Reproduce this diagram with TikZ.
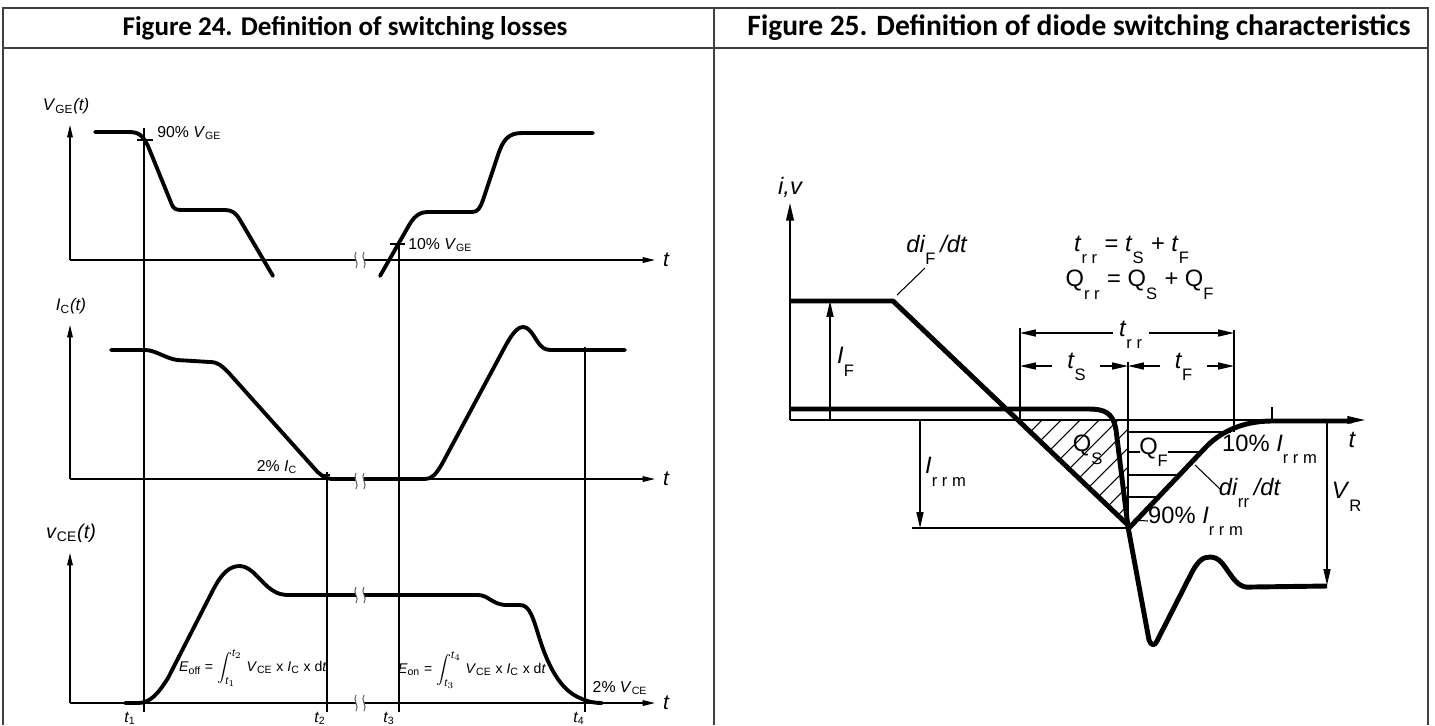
\documentclass[tikz,border=0pt]{standalone}
\usepackage{fontspec}
\usepackage{amsmath}
\setsansfont{Liberation Sans}
\newfontfamily\headfont{Carlito}
\usetikzlibrary{arrows.meta}

% lowered subscript, as in the diode sketch
\newcommand{\lsub}[1]{\raisebox{-0.7ex}{\textsubscript{\upshape #1}}}
\newcommand{\usub}[1]{\textsubscript{\upshape #1}}

\tikzset{
    frame/.style={draw=black!75, line width=1.1pt},
    heading/.style={font=\headfont\bfseries\fontsize{15.4}{17}\selectfont, inner sep=0pt},
    guide/.style={line width=0.6pt},
    axisL/.style={line width=0.7pt, -{Triangle[length=7pt,width=3.2pt]}},
    axisR/.style={line width=0.8pt, -{Triangle[length=10pt,width=4.4pt]}},
    dim/.style={line width=0.7pt, -{Triangle[length=9pt,width=4pt]}},
    wave/.style={line width=2.2pt, line join=round, line cap=round},
    bold/.style={line width=2.8pt, line join=round},
    small/.style={font=\sffamily\fontsize{9}{10}\selectfont, inner sep=0pt},
    axlbl/.style={font=\sffamily\fontsize{9.6}{11}\selectfont, inner sep=0pt},
    tlbl/.style={font=\sffamily\itshape\fontsize{12}{13}\selectfont, inner sep=0pt},
    big/.style={font=\sffamily\fontsize{13.5}{15}\selectfont, inner sep=0pt},
}

\begin{document}
\begin{tikzpicture}[x=0.02cm, y=-0.02cm]
    \useasboundingbox (0,0) rectangle (1435,725);

    % Table frame
    \draw[frame] (3,725) -- (3,8) -- (1428,8) -- (1428,725);
    \draw[frame] (3,48) -- (1428,48);
    \draw[frame] (714,8) -- (714,725);
    \node[heading] (headA) at (345,28) {Figure 24. Definition of switching losses};
    \node[heading, font=\headfont\bfseries\fontsize{16.8}{18}\selectfont] (headB) at (1079,28) {Figure 25. Definition of diode switching characteristics};

    % ---------------- Figure 24 ----------------
    % Three time axes
    \foreach \name/\yb/\yt in {vge/260/125, ic/479/325, vce/703/553} {
        \coordinate (\name-o) at (70,\yb);
        \coordinate (\name-y) at (70,\yt);
        \coordinate (\name-x) at (655,\yb);
        \draw[axisL] (\name-o) -- (\name-y);
        \draw[axisL] (\name-o) -- (\name-x);
        \node[tlbl] (\name-t) at (666,\yb) {t};
    }
    \node[axlbl] (lblvge) at (66,106) {\textit{V}\usub{GE}\textit{(t)}};
    \node[axlbl] (lblic) at (71,306) {\textit{I}\usub{C}\textit{(t)}};
    \node[axlbl, font=\sffamily\fontsize{11.3}{12}\selectfont] (lblvce) at (71,533) {\textit{v}\usub{CE}\textit{(t)}};

    % Time markers t1..t4
    \foreach \x/\ytop/\xl/\k in {144/128/130/1, 327/472/320/2, 399/240/389/3, 585/347/579/4} {
        \draw[guide] (\x,\ytop) -- (\x,712);
        \node[small, font=\sffamily\itshape\fontsize{9}{10}\selectfont] (tm\k) at (\xl,718) {t\usub{\k}};
    }
    \draw[guide] (137,140) -- (153,140);
    \draw[guide] (390,244) -- (405,244);
    \draw[guide] (322,475) -- (330,475);

    % Gate voltage
    \draw[wave] (95,132) -- (128,132) .. controls (138,132) and (142,134) .. (148,146)
        -- (172,205) .. controls (174,209) and (176,210) .. (182,210) -- (225,210)
        .. controls (232,210) and (236,213) .. (240,220) -- (273,276);
    \draw[wave] (380,276) -- (408,227) .. controls (413,218) and (418,212) .. (428,212)
        -- (472,212) .. controls (478,212) and (480,208) .. (483,200) -- (498,155)
        .. controls (503,140) and (508,133) .. (522,133) -- (593,133);

    % Collector current
    \draw[wave] (111,350) -- (145,350) .. controls (155,350) and (165,358) .. (177,360)
        -- (210,362) .. controls (218,362) and (222,366) .. (228,372) -- (314,468)
        .. controls (320,475) and (324,478) .. (332,479) -- (425,479)
        .. controls (432,479) and (436,474) .. (442,464) -- (500,356)
        .. controls (508,341) and (515,327) .. (523,327) .. controls (531,327) and (535,340) .. (541,346)
        .. controls (545,350) and (548,350) .. (555,350) -- (625,350);

    % Collector-emitter voltage
    \draw[wave] (125,703) -- (138,703) .. controls (150,703) and (158,694) .. (168,678)
        -- (212,592) .. controls (222,572) and (230,566) .. (240,566)
        .. controls (252,566) and (262,584) .. (272,590) .. controls (278,594) and (282,595) .. (290,595)
        -- (478,595) .. controls (488,595) and (492,604) .. (505,605) -- (520,605)
        .. controls (530,605) and (533,618) .. (540,640) .. controls (548,665) and (560,690) .. (580,698)
        .. controls (588,702) and (595,703) .. (602,703);

    % Time breaks
    \foreach \y in {260,481,595,703} {
        \fill[white] (356,\y-6) rectangle (364,\y+6);
        \draw[guide, black!60] (356,\y-8) .. controls (352,\y-3) and (360,\y+3) .. (356,\y+8);
        \draw[guide, black!60] (364,\y-8) .. controls (360,\y-3) and (368,\y+3) .. (364,\y+8);
    }

    % Levels and energies
    \node[small, anchor=west] (p90) at (157,133) {90\% \textit{V}\usub{GE}};
    \node[small, anchor=west] (p10) at (408,245) {10\% \textit{V}\usub{GE}};
    \node[small] (p2ic) at (277,467) {2\% \textit{I}\usub{C}};
    \node[small] (p2vce) at (620,688) {2\% \textit{V}\usub{CE}};
    \node[small, font=\sffamily\fontsize{8}{9}\selectfont] (eoff) at (253,668)
        {\textit{E}\usub{off} = $\displaystyle\int_{\text{\itshape t}_1}^{\text{\itshape t}_2}$ \textit{V}\usub{CE} x \textit{I}\usub{C} x d\textit{t}};
    \node[small, font=\sffamily\fontsize{8}{9}\selectfont] (eon) at (472,670)
        {\textit{E}\usub{on} = $\displaystyle\int_{\text{\itshape t}_3}^{\text{\itshape t}_4}$ \textit{V}\usub{CE} x \textit{I}\usub{C} x d\textit{t}};

    % ---------------- Figure 25 ----------------
    \coordinate (d-o) at (790,420);
    \coordinate (d-y) at (790,203);
    \coordinate (d-x) at (1365,420);
    \draw[axisR] (d-o) -- (d-y);
    \draw[axisR] (d-o) -- (d-x);
    \node[big, font=\sffamily\itshape\fontsize{13.5}{15}\selectfont] (dlbl) at (790,187) {i,v};
    \node[big, font=\sffamily\itshape\fontsize{13.5}{15}\selectfont] (dt) at (1352,440) {t};

    % Q_S hatching
    \begin{scope}
        \clip (1018,420) -- (1128,420) -- (1128,527) -- cycle;
        \foreach \k in {0,...,11}
            \draw[guide] (1023+19*\k,420) -- ++(-170,170);
    \end{scope}
    % Q_F hatching
    \draw[guide] (1128,432) -- (1231,432);
    \draw[guide] (1128,452) -- (1140,452);
    \draw[guide] (1168,452) -- (1201,452);
    \draw[guide] (1128,475) -- (1180,475);
    \draw[guide] (1128,497) -- (1159,497);

    % Guide lines
    \draw[guide] (1020,328) -- (1020,422);
    \draw[guide] (1128,362) -- (1128,528);
    \draw[guide] (1234,330) -- (1234,432);
    \draw[guide] (912,528) -- (1130,528);
    \draw[guide] (1272,407) -- (1272,421);

    % Current and voltage
    \draw[bold] (790,301) -- (893,301) -- (1130,527) -- (1205,448)
        .. controls (1218,434) and (1240,421) .. (1272,421) -- (1352,421);
    \draw[bold] (790,409) -- (1088,409) .. controls (1104,409) and (1113,412) .. (1116,430)
        -- (1128,527) -- (1149,640) .. controls (1151,646) and (1155,646) .. (1157,641)
        -- (1190,576) .. controls (1198,560) and (1203,557) .. (1210,557)
        .. controls (1220,557) and (1224,566) .. (1230,574) .. controls (1238,586) and (1244,588) .. (1252,587)
        -- (1327,586);

    % Amplitude arrows
    \draw[dim] (830,420) -- (830,301);
    \draw[dim] (920,420) -- (920,528);
    \draw[dim] (1327,421) -- (1327,585);
    \node[big] (lblIF) at (846,362) {\textit{I}\lsub{F}};
    \node[big] (lblIrrm) at (946,472) {\textit{I}\lsub{r r m}};
    \node[big] (lblVR) at (1347,497) {\textit{V}\lsub{R}};

    % Time spans
    \node[big] (trr) at (1131,335) {\textit{t}\lsub{r r}};
    \node[big] (ts) at (1077,367) {\textit{t}\lsub{S}};
    \node[big] (tf) at (1184,367) {\textit{t}\lsub{F}};
    \draw[dim] (trr.west) ++(-6,-2) -- (1020,333);
    \draw[dim] (trr.east) ++(6,-2) -- (1234,333);
    \draw[dim] (1052,366) -- (1020,366);
    \draw[dim] (1100,366) -- (1128,366);
    \draw[dim] (1160,366) -- (1128,366);
    \draw[dim] (1207,366) -- (1234,366);

    % Charges and slopes
    \node[big] (qs) at (1088,450) {Q\lsub{S}};
    \node[big] (qf) at (1154,452) {Q\lsub{F}};
    \node[big] (difdt) at (937,250) {\textit{di}\lsub{F}\,\textit{/dt}};
    \coordinate (knee) at (897,295);
    \coordinate (difoot) at (925,268);
    \draw[guide] (knee) -- (difoot);
    \node[big] (dirrdt) at (1250,493) {\textit{di}\lsub{rr}\,\textit{/dt}};
    \coordinate (slope) at (1195,465);
    \coordinate (dirfoot) at (1220,489);
    \draw[guide] (slope) -- (dirfoot);
    \node[big] (p10r) at (1270,449) {10\% \textit{I}\lsub{r r m}};
    \node[big] (p90r) at (1196,521) {90\% \textit{I}\lsub{r r m}};
    \coordinate (peak) at (1133,520);
    \draw[guide] (peak) -- (p90r.west);

    % Definitions
    \node[big] (defT) at (1132,250) {\textit{t}\lsub{r r} = \textit{t}\lsub{S} + \textit{t}\lsub{F}};
    \node[big] (defQ) at (1140,285) {Q\lsub{r r} = Q\lsub{S} + Q\lsub{F}};
\end{tikzpicture}
\end{document}
